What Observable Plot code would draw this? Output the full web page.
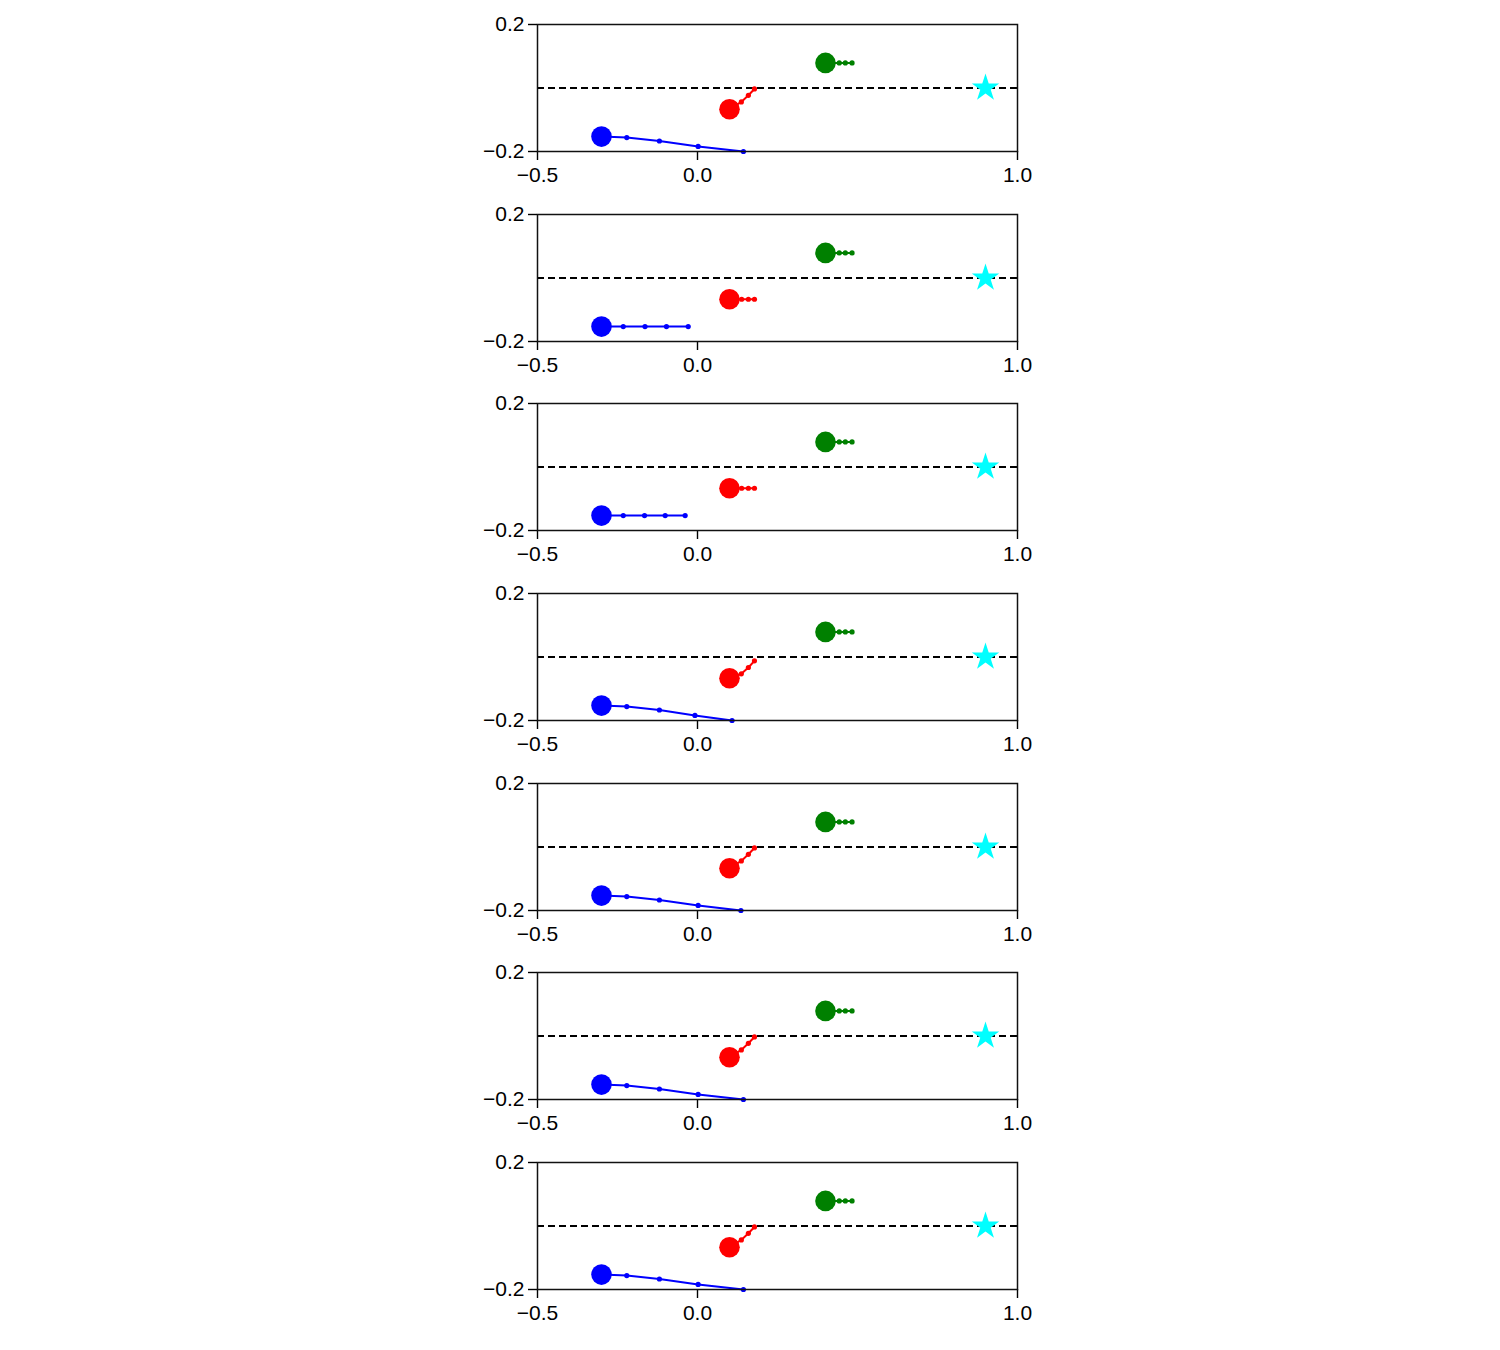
<!DOCTYPE html>
<html>
<head>
<meta charset="utf-8">
<script src="https://cdn.jsdelivr.net/npm/d3@7"></script>
<script src="https://cdn.jsdelivr.net/npm/@observablehq/plot@0.6"></script>
<style>
  html, body { margin: 0; padding: 0; background: #fff; }
  #wrap { position: relative; width: 1500px; height: 1350px; }
  #wrap svg { position: absolute; left: 0; }
</style>
</head>
<body>
<div id="wrap"></div>
<script>
// ---- data ----
const panelIds = [1, 2, 3, 4, 5, 6, 7];

const blueX = [
  [-0.3, -0.221, -0.119, 0.002, 0.1435],
  [-0.3, -0.232, -0.164, -0.097, -0.029],
  [-0.3, -0.232, -0.1655, -0.101, -0.0386],
  [-0.3, -0.221, -0.119, -0.008, 0.108],
  [-0.3, -0.221, -0.119, 0.002, 0.1357],
  [-0.3, -0.221, -0.119, 0.002, 0.1435],
  [-0.3, -0.221, -0.119, 0.002, 0.1435]
];
const blueY = [
  [-0.153, -0.156, -0.167, -0.184, -0.2],
  [-0.153, -0.153, -0.153, -0.153, -0.153],
  [-0.153, -0.153, -0.153, -0.153, -0.153],
  [-0.153, -0.156, -0.167, -0.184, -0.2],
  [-0.153, -0.156, -0.167, -0.184, -0.2],
  [-0.153, -0.156, -0.167, -0.184, -0.2],
  [-0.153, -0.156, -0.167, -0.184, -0.2]
];
const redX = [
  [0.1, 0.137, 0.159, 0.178],
  [0.1, 0.138, 0.159, 0.178],
  [0.1, 0.138, 0.159, 0.178],
  [0.1, 0.137, 0.159, 0.178],
  [0.1, 0.137, 0.159, 0.178],
  [0.1, 0.137, 0.159, 0.178],
  [0.1, 0.137, 0.159, 0.178]
];
const redY = [
  [-0.067, -0.044, -0.023, -0.003],
  [-0.067, -0.067, -0.067, -0.067],
  [-0.067, -0.067, -0.067, -0.067],
  [-0.067, -0.053, -0.033, -0.012],
  [-0.067, -0.044, -0.023, -0.003],
  [-0.067, -0.044, -0.023, -0.003],
  [-0.067, -0.044, -0.023, -0.003]
];
const greenX = [0.4, 0.443, 0.462, 0.483];
const greenY = [0.079, 0.079, 0.079, 0.079];
const starX = [0.9];
const starY = [0];
const refLineY = [0];

const xTicks = [-0.5, 0.0, 1.0];
const yTicks = [-0.2, 0.2];
const xDomain = [-0.5, 1.0];
const yDomain = [-0.2, 0.2];

// ---- drawing ----
const fmt = d3.format(".1f");
const wrap = document.getElementById("wrap");

function rows(xs, ys) { return xs.map((x, i) => ({x, y: ys[i]})); }

panelIds.forEach((id, p) => {
  const blue = rows(blueX[p], blueY[p]);
  const red = rows(redX[p], redY[p]);
  const green = rows(greenX, greenY);
  const star = rows(starX, starY);

  const series = [[blue, "#0000ff"], [red, "#ff0000"], [green, "#008000"]];
  const marks = [
    Plot.ruleY(refLineY, {stroke: "#000", strokeWidth: 2, strokeDasharray: "7,4"})
  ];
  for (const [data, color] of series) {
    marks.push(Plot.line(data, {x: "x", y: "y", stroke: color, strokeWidth: 2}));
    marks.push(Plot.dot(data.slice(1), {x: "x", y: "y", fill: color, r: 2.6}));
    marks.push(Plot.dot(data.slice(0, 1), {x: "x", y: "y", fill: color, r: 10.3}));
  }
  marks.push(Plot.dot(star, {x: "x", y: "y", symbol: "star", fill: "#00ffff", r: 8.6}));
  marks.push(Plot.axisX({ticks: xTicks, tickFormat: fmt, tickSize: 9, tickPadding: 7, label: null, strokeWidth: 1.4, fontSize: 21}));
  marks.push(Plot.axisY({ticks: yTicks, tickFormat: fmt, tickSize: 9, tickPadding: 4, label: null, strokeWidth: 1.4, fontSize: 21}));
  marks.push(Plot.frame({stroke: "#111", strokeWidth: 1.5}));

  const svg = Plot.plot({
    width: 1500,
    height: 190,
    marginLeft: 537,
    marginRight: 483,
    marginTop: 24,
    marginBottom: 39,
    x: {domain: xDomain},
    y: {domain: yDomain},
    style: {fontSize: "21px", fontFamily: "'Liberation Sans', Arial, sans-serif", color: "#000", background: "transparent", overflow: "visible"},
    marks
  });
  svg.style.top = Math.round(p * 189.67) + "px";
  wrap.appendChild(svg);
});
</script>
</body>
</html>
